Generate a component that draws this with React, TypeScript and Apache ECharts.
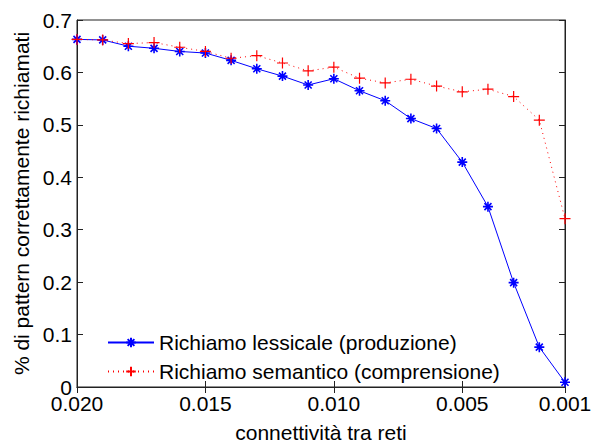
import React, { useEffect, useRef } from "react";
import * as echarts from "echarts";

const xValues = [0.020, 0.019, 0.018, 0.017, 0.016, 0.015, 0.014, 0.013, 0.012, 0.011, 0.010, 0.009, 0.008, 0.007, 0.006, 0.005, 0.004, 0.003, 0.002, 0.001];
const lessicale = [0.663, 0.662, 0.650, 0.646, 0.640, 0.637, 0.623, 0.607, 0.593, 0.576, 0.588, 0.565, 0.546, 0.512, 0.493, 0.429, 0.344, 0.199, 0.076, 0.009];
const semantico = [0.663, 0.662, 0.655, 0.657, 0.648, 0.640, 0.627, 0.632, 0.618, 0.603, 0.610, 0.589, 0.580, 0.587, 0.574, 0.563, 0.568, 0.554, 0.509, 0.321];
const xTicks = [0.020, 0.015, 0.010, 0.005, 0.001];
const seriesNames = ["Richiamo lessicale (produzione)", "Richiamo semantico (comprensione)"];

const FONT = "Liberation Sans, Arial, sans-serif";
const FS = 21;
const asterisk = "path://M-1,0L1,0M0,-1L0,1M-0.7,-0.7L0.7,0.7M-0.7,0.7L0.7,-0.7";
const plus = "path://M-1,0L1,0M0,-1L0,1";

export default function App() {
  const ref = useRef<HTMLDivElement>(null);
  useEffect(() => {
    const chart = echarts.init(ref.current!, null, { renderer: "svg" });
    const axisLine = { show: true, lineStyle: { color: "#222", width: 1 } };
    chart.setOption({
      animation: false,
      backgroundColor: "#fff",
      grid: { left: 77, right: 31, top: 20, bottom: 49, show: true, borderColor: "#222", borderWidth: 1 },
      legend: {
        orient: "vertical",
        left: 102,
        top: 327,
        itemWidth: 46,
        itemHeight: 12,
        itemGap: 8,
        textStyle: { fontFamily: FONT, fontSize: FS, color: "#000" },
        data: seriesNames,
      },
      xAxis: [
        {
          type: "value",
          inverse: true,
          min: 0.001,
          max: 0.020,
          name: "connettività tra reti",
          nameLocation: "middle",
          nameGap: 35,
          nameTextStyle: { fontFamily: FONT, fontSize: FS, color: "#000" },
          axisLine,
          splitLine: { show: false },
          axisTick: { inside: true, length: 6, customValues: xTicks, lineStyle: { color: "#222" } },
          axisLabel: {
            customValues: xTicks,
            formatter: (v: number) => v.toFixed(3),
            fontFamily: FONT,
            fontSize: FS,
            color: "#000",
            margin: 6,
          },
        },
        {
          type: "value",
          inverse: true,
          min: 0.001,
          max: 0.020,
          position: "top",
          axisLine,
          splitLine: { show: false },
          axisTick: { inside: true, length: 6, customValues: xTicks, lineStyle: { color: "#222" } },
          axisLabel: { show: false },
        },
      ],
      yAxis: [
        {
          type: "value",
          min: 0,
          max: 0.7,
          interval: 0.1,
          name: "% di pattern correttamente richiamati",
          nameLocation: "middle",
          nameGap: 42,
          nameTextStyle: { fontFamily: FONT, fontSize: FS, color: "#000" },
          axisLine,
          splitLine: { show: false },
          axisTick: { inside: true, length: 6, lineStyle: { color: "#222" } },
          axisLabel: {
            formatter: (v: number) => (v === 0 ? "0" : String(Math.round(v * 10) / 10)),
            fontFamily: FONT,
            fontSize: FS,
            color: "#000",
            margin: 5,
          },
        },
        {
          type: "value",
          min: 0,
          max: 0.7,
          interval: 0.1,
          position: "right",
          axisLine,
          splitLine: { show: false },
          axisTick: { inside: true, length: 6, lineStyle: { color: "#222" } },
          axisLabel: { show: false },
        },
      ],
      series: [
        {
          name: seriesNames[0],
          type: "line",
          data: xValues.map((x, i) => [x, lessicale[i]]),
          symbol: asterisk,
          symbolSize: 10,
          showAllSymbol: true,
          color: "#0000ff",
          lineStyle: { color: "#0000ff", width: 1, type: "solid" },
          itemStyle: { color: "none", borderColor: "#0000ff", borderWidth: 1.6 },
        },
        {
          name: seriesNames[1],
          type: "line",
          data: xValues.map((x, i) => [x, semantico[i]]),
          symbol: plus,
          symbolSize: 11,
          showAllSymbol: true,
          color: "#ff0000",
          lineStyle: { color: "#ff0000", width: 1, type: [1, 4] },
          itemStyle: { color: "none", borderColor: "#ff0000", borderWidth: 1.2 },
        },
      ],
    });
    return () => chart.dispose();
  }, []);
  return <div ref={ref} style={{ width: 596, height: 448, position: "absolute", left: 0, top: 0 }} />;
}
